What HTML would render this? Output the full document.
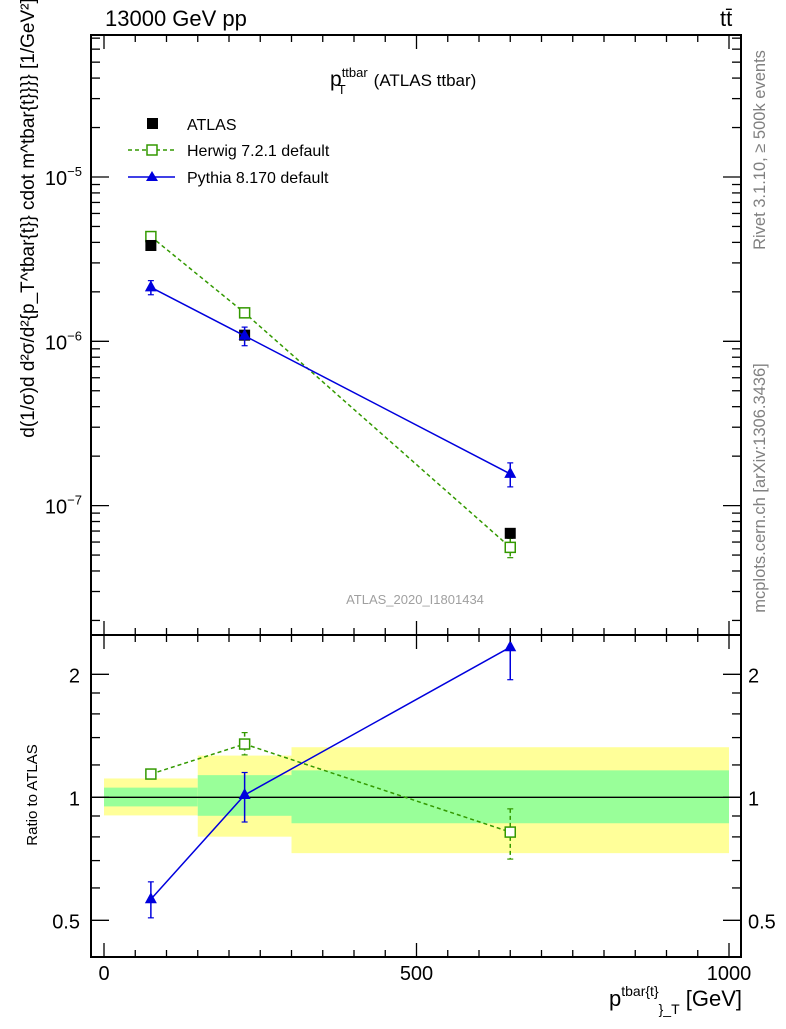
<!DOCTYPE html>
<html><head><meta charset="utf-8"><style>
body{margin:0;background:#fff;}
svg text{font-family:"Liberation Sans",sans-serif;}
</style></head><body>
<svg id="chart" width="786" height="1024" viewBox="0 0 786 1024" xmlns="http://www.w3.org/2000/svg">
<g id="ratio-bands"></g>
<g id="main"></g>
<g id="ratio"></g>
<g id="frames"></g>
<text x="105" y="26" font-size="22">13000 GeV pp</text>
<text x="720" y="26" font-size="22">tt̄</text>
<text x="330" y="86" font-size="21">p<tspan font-size="13" dy="-9">ttbar</tspan><tspan font-size="13" dx="-30" dy="17">T</tspan><tspan font-size="17" dx="28" dy="-8">(ATLAS ttbar)</tspan></text>
<text x="415" y="604" font-size="13" fill="#a0a0a0" text-anchor="middle">ATLAS_2020_I1801434</text>
<text transform="translate(765,150) rotate(-90)" font-size="16.5" fill="#808080" text-anchor="middle">Rivet 3.1.10, ≥ 500k events</text>
<text transform="translate(765,488) rotate(-90)" font-size="16.5" fill="#808080" text-anchor="middle">mcplots.cern.ch [arXiv:1306.3436]</text>
<text transform="translate(34,218) rotate(-90)" font-size="19" text-anchor="middle">d(1/σ)d d²σ/d²{p_T^tbar{t}} cdot m^tbar{t}}}} [1/GeV²]</text>
<text transform="translate(37,795) rotate(-90)" font-size="15" text-anchor="middle">Ratio to ATLAS</text>
<text x="742" y="1006" font-size="22" text-anchor="end">p<tspan font-size="14" dy="-10">tbar{t}</tspan><tspan font-size="14" dy="18">}_T</tspan><tspan dy="-8"> [GeV]</tspan></text>
<g>
<rect x="147" y="118" width="11" height="11" fill="#000"/>
<text x="187" y="130" font-size="16">ATLAS</text>
<line x1="128" y1="150" x2="175" y2="150" stroke="#339900" stroke-width="1.5" stroke-dasharray="4,3"/>
<rect x="147" y="145" width="10" height="10" fill="#fff" stroke="#339900" stroke-width="1.5"/>
<text x="187" y="156" font-size="16">Herwig 7.2.1 default</text>
<line x1="128" y1="177" x2="175" y2="177" stroke="#0000dd" stroke-width="1.5"/>
<polygon points="152,171 146,181 158,181" fill="#0000dd"/>
<text x="187" y="183" font-size="16">Pythia 8.170 default</text>
</g>
</svg>
<script>
const binEdges=[0,150,300,1000];
const binCenters=[75,225,650];
const atlas=[3.83e-6,1.09e-6,6.78e-8];
const herwig=[4.34e-6,1.49e-6,5.57e-8];
const herwigErr=[0.1e-6,0.05e-6,0.75e-8];
const pythia=[2.13e-6,1.08e-6,1.56e-7];
const pythiaErr=[0.21e-6,0.14e-6,0.26e-7];
const ratioHerwig=[1.14,1.35,0.822];
const ratioHerwigLo=[1.11,1.27,0.706];
const ratioHerwigHi=[1.17,1.44,0.937];
const ratioPythia=[0.563,1.013,2.33];
const ratioPythiaLo=[0.507,0.87,1.94];
const ratioPythiaHi=[0.621,1.15,2.6];
const bandInnerLo=[0.950,0.901,0.864];
const bandInnerHi=[1.056,1.133,1.164];
const bandOuterLo=[0.903,0.801,0.730];
const bandOuterHi=[1.112,1.265,1.326];
const xTicks=[0,500,1000];
const mainYTicks=[1e-5,1e-6,1e-7];
const ratioYTicks=[2,1,0.5];

const NS='http://www.w3.org/2000/svg';
const X=v=>104+v*0.625;
const YM=v=>177-(Math.log10(v)+5)*164.3;
const YR=v=>797.3-Math.log2(v)*123;
function el(parent,tag,attrs){const e=document.createElementNS(NS,tag);for(const k in attrs)e.setAttribute(k,attrs[k]);document.getElementById(parent).appendChild(e);return e;}
const L=91,R=741,MT=35,MB=635,RB=957;
for(let i=0;i<3;i++){
 let r=el('ratio-bands','rect',{x:X(binEdges[i]),y:YR(bandOuterHi[i]),width:X(binEdges[i+1])-X(binEdges[i]),height:YR(bandOuterLo[i])-YR(bandOuterHi[i]),fill:'#ffff99'});
 
 
 let g=el('ratio-bands','rect',{x:X(binEdges[i]),y:YR(bandInnerHi[i]),width:X(binEdges[i+1])-X(binEdges[i]),height:YR(bandInnerLo[i])-YR(bandInnerHi[i]),fill:'#99ff99'});
 
 
}
el('ratio','line',{x1:L,x2:R,y1:YR(1),y2:YR(1),stroke:'#000','stroke-width':1.3});
function series(g,vals,lo,hi,Y,color,dash,marker,name,top){
 let pts=vals.map((v,i)=>X(binCenters[i])+','+Y(v)).join(' ');
 const pl=el(g,'polyline',{points:pts,fill:'none',stroke:color,'stroke-width':1.5,'stroke-dasharray':dash});
 
 
 vals.forEach((v,i)=>{
  const x=X(binCenters[i]);
  if(lo){const yh=Y(hi[i]),clip=yh<top,y1=clip?top:yh,y2=Y(lo[i]);
   el(g,'line',{x1:x,x2:x,y1:y1,y2:y2,stroke:color,'stroke-width':1.5,'stroke-dasharray':dash});
   if(!clip)el(g,'line',{x1:x-3,x2:x+3,y1:y1,y2:y1,stroke:color,'stroke-width':1.2});
   el(g,'line',{x1:x-3,x2:x+3,y1:y2,y2:y2,stroke:color,'stroke-width':1.2});}
  const y=Y(v);let m;
  if(marker==='sq')m=el(g,'rect',{x:x-5,y:y-5,width:10,height:10,fill:'#fff',stroke:color,'stroke-width':1.5});
  else if(marker==='fsq')m=el(g,'rect',{x:x-5.5,y:y-5.5,width:11,height:11,fill:color});
  else m=el(g,'polygon',{points:`${x},${y-7} ${x-6},${y+4} ${x+6},${y+4}`,fill:color});
  
  
 });
}
series('main',herwig,herwig.map((v,i)=>v-herwigErr[i]),herwig.map((v,i)=>v+herwigErr[i]),YM,'#339900','4,3','sq','herwig',MT);
series('main',atlas,null,null,YM,'#000','none','fsq','atlas',MT);
document.querySelectorAll('#main polyline')[1].setAttribute('stroke','none');
series('main',pythia,pythia.map((v,i)=>v-pythiaErr[i]),pythia.map((v,i)=>v+pythiaErr[i]),YM,'#0000dd','none','tri','pythia',MT);
series('ratio',ratioHerwig,ratioHerwigLo,ratioHerwigHi,YR,'#339900','4,3','sq','ratio-herwig',MB);
series('ratio',ratioPythia,ratioPythiaLo,ratioPythiaHi,YR,'#0000dd','none','tri','ratio-pythia',MB);
el('frames','rect',{x:L,y:MT,width:R-L,height:MB-MT,fill:'none',stroke:'#000','stroke-width':2});
el('frames','rect',{x:L,y:MB,width:R-L,height:RB-MB,fill:'none',stroke:'#000','stroke-width':2});
for(let v=0;v<=1000;v+=50){const maj=v%500===0,x=X(v);
 for(const [b,t] of [[MB,MT],[RB,MB]]){
  el('frames','line',{x1:x,x2:x,y1:b,y2:b-(maj?14:7),stroke:'#000','stroke-width':1.3});
  el('frames','line',{x1:x,x2:x,y1:t,y2:t+(maj?14:7),stroke:'#000','stroke-width':1.3});}}
xTicks.forEach(v=>{const t=el('frames','text',{x:X(v),y:980,'font-size':20,'text-anchor':'middle'});t.textContent=v;
 
 });
for(let d=-8;d<=-4;d++)for(let m=1;m<10;m++){const v=m*Math.pow(10,d),y=YM(v);if(y<MT||y>MB)continue;
 const len=m===1?18:9;
 el('frames','line',{x1:L,x2:L+len,y1:y,y2:y,stroke:'#000','stroke-width':1.3});
 el('frames','line',{x1:R,x2:R-len,y1:y,y2:y,stroke:'#000','stroke-width':1.3});}
mainYTicks.forEach(v=>{const t=el('frames','text',{x:82,y:YM(v)+8,'font-size':20,'text-anchor':'end'});
 t.innerHTML='10<tspan font-size="13" dy="-9">'+Math.round(Math.log10(v)).toString().replace('-','−')+'</tspan>';
 
 });
[0.5,0.6,0.7,0.8,0.9,1,1.2,1.4,1.6,1.8,2].forEach(v=>{const y=YR(v),len=(v===0.5||v===1||v===2)?18:9;
 el('frames','line',{x1:L,x2:L+len,y1:y,y2:y,stroke:'#000','stroke-width':1.3});
 el('frames','line',{x1:R,x2:R-len,y1:y,y2:y,stroke:'#000','stroke-width':1.3});});
ratioYTicks.forEach(v=>{for(const [x,a] of [[80,'end'],[748,'start']]){const t=el('frames','text',{x:x,y:YR(v)+8,'font-size':20,'text-anchor':a});t.textContent=v;
 
 }});
</script>
</body></html>
